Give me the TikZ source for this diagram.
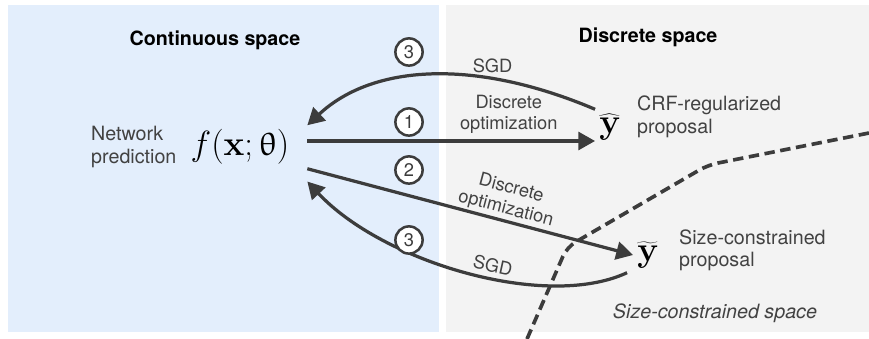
\documentclass[tikz,border=0pt]{standalone}
\usepackage[no-math]{fontspec}
\setmainfont{TeX Gyre Heros}
\usepackage{upgreek}
\usetikzlibrary{positioning,arrows.meta}

\definecolor{contblue}{HTML}{E3EEFC}
\definecolor{discgray}{HTML}{F3F3F3}
\definecolor{ink}{HTML}{3C3C3C}
\definecolor{labelgray}{HTML}{424242}

\tikzset{
	heading/.style = {font = \fontsize{14}{16}\selectfont\bfseries},
	lbl/.style = {text = labelgray, font = \fontsize{14}{16}\selectfont, align = left, inner sep = 0.1cm},
	arrowlbl/.style = {text = labelgray, font = \fontsize{13}{15}\selectfont, align = center, inner sep = 1pt},
	stepnum/.style = {circle, draw = ink, line width = 1.8pt, fill = white, minimum size = 0.68cm, inner sep = 0pt, text = ink, font = \fontsize{13}{13}\selectfont},
	mathbig/.style = {font = \fontsize{23}{23}\selectfont, inner sep = 0.1cm},
	flow/.style = {->, ink, line width = 2.3pt}
}

\begin{document}
\begin{tikzpicture}[x = 0.025cm, y = 0.025cm, > = {Triangle[length = 0.42cm, width = 0.45cm]}]

	\useasboundingbox (0,0) rectangle (869,-339);

	% Continuous and discrete panels

	\fill [contblue] (8,-5) rectangle (439,-332);
	\fill [discgray] (446,-5) rectangle (869,-332);

	\node [heading] (conthead) at (215,-40) {Continuous space};
	\node [heading] (dischead) at (648,-37) {Discrete space};

	% Prediction and the two proposals

	\node [mathbig, outer xsep = 0.35cm] (pred) at (240,-147) {$f(\mathbf{x};\uptheta)$};
	\node [lbl, left = -0.2cm of pred] (predtxt) {Network\\prediction};

	\node [mathbig] (crf) at (610,-127) {$\widehat{\mathbf{y}}$};
	\node [lbl, right = 0.2cm of crf, yshift = 0.25cm] (crftxt) {CRF-regularized\\proposal};

	\node [mathbig] (size) at (648,-255) {$\widetilde{\mathbf{y}}$};
	\node [lbl, right = 0.3cm of size, yshift = 0.12cm] (sizetxt) {Size-constrained\\proposal};

	\node [lbl, font = \fontsize{14}{16}\selectfont\itshape] (sizespace) at (715,-313) {Size-constrained space};

	% Border of the size-constrained space

	\draw [ink, line width = 2.6pt, dash pattern = on 0.26cm off 0.14cm, rounded corners = 0.25cm]
		(527,-339) -- (567,-247) -- (708,-165) -- (869,-133);

	% Steps

	\draw [flow] ([yshift = 0.15cm] pred.east) -- ([yshift = 0.15cm] pred.east -| crf.west)
		node [arrowlbl, pos = 0.7, above = 3pt] {Discrete\\optimization};

	\draw [flow] (pred.south east) -- (size.west)
		node [arrowlbl, pos = 0.6, above, sloped] {Discrete\\optimization};

	\draw [flow] (crf.north west) .. controls +(157:130) and +(43:90) .. (pred.north east)
		node [arrowlbl, pos = 0.3, above = 2pt] {SGD};

	\draw [flow] ([xshift = -0.15cm] size.south west) .. controls +(205:90) and +(-47:110) .. ([yshift = -0.32cm] pred.south east)
		node [arrowlbl, pos = 0.43, above = 2pt, sloped] {SGD};

	\foreach \n/\y/\s in {3/52/sgdtop, 1/122/crfopt, 2/170/sizeopt, 3/240/sgdbot}
		\node [stepnum] (num\s) at (409,-\y) {\n};

\end{tikzpicture}
\end{document}
